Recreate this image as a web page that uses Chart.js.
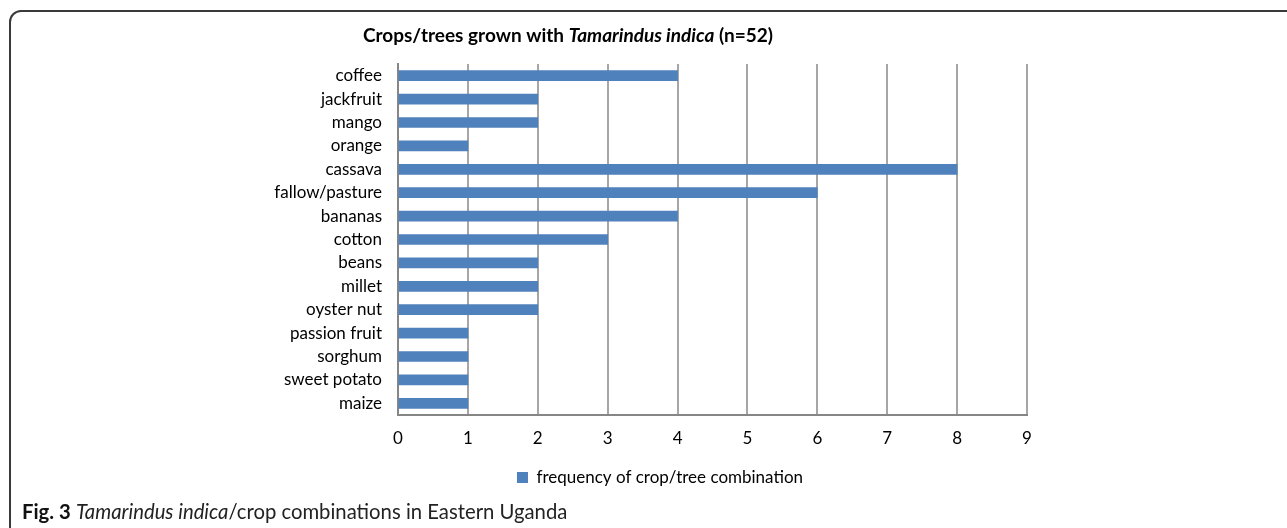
<!DOCTYPE html>
<html>
<head>
<meta charset="utf-8">
<script src="https://cdn.jsdelivr.net/npm/chart.js@4"></script>
<style>
  html, body { margin: 0; padding: 0; background: #fff; overflow: hidden; }
  #frame {
    position: absolute; left: 9px; top: 10px; width: 1320px; height: 560px;
    border: 2px solid #3a3a3a; border-radius: 12px; box-sizing: border-box;
  }
  #wrap { position: absolute; left: 0; top: 0; width: 1287px; height: 528px; }
  #caption {
    position: absolute; left: 22px; top: 499px; font-family: Lato, sans-serif;
    font-size: 20.3px; color: #222; white-space: nowrap;
  }
  #caption b { color: #111; }
</style>
</head>
<body>
<div id="frame"></div>
<div id="wrap"><canvas id="myChart"></canvas></div>
<div id="caption"><b>Fig. 3</b> <i>Tamarindus indica</i>/crop combinations in Eastern Uganda</div>
<script>
// data
const crops = ['coffee', 'jackfruit', 'mango', 'orange', 'cassava', 'fallow/pasture', 'bananas',
    'cotton', 'beans', 'millet', 'oyster nut', 'passion fruit', 'sorghum', 'sweet potato', 'maize'];
const frequency = [4, 2, 2, 1, 8, 6, 4, 3, 2, 2, 2, 1, 1, 1, 1];
const xTicks = [0, 1, 2, 3, 4, 5, 6, 7, 8, 9];
const seriesName = 'frequency of crop/tree combination';

const font = 'Lato, sans-serif';

// title with mixed bold / italic runs, legend moved to sit under the plot like the original
const extrasPlugin = {
    id: 'extras',
    afterLayout: (chart) => {
        const lg = chart.legend;
        const shift = 660 - (lg.left + lg.right) / 2;
        lg.left += shift;
        lg.right += shift;
    },
    afterDraw: (chart) => {
        const ctx = chart.ctx;
        const parts = [
            { t: 'Crops/trees grown with ', f: 'bold 19px ' + font },
            { t: 'Tamarindus indica', f: 'italic bold 19px ' + font },
            { t: ' (n=52)', f: 'bold 19px ' + font }
        ];
        ctx.save();
        let total = 0;
        parts.forEach((p) => { ctx.font = p.f; p.w = ctx.measureText(p.t).width; total += p.w; });
        let x = 568 - total / 2;
        ctx.fillStyle = '#000';
        ctx.textBaseline = 'middle';
        parts.forEach((p) => { ctx.font = p.f; ctx.fillText(p.t, x, 36); x += p.w; });
        ctx.restore();
    }
};

const data = {
    labels: crops,
    datasets: [{
        label: seriesName,
        backgroundColor: '#4f81bd',
        borderWidth: 0,
        data: frequency,
        barThickness: 10
    }]
};

const config = {
    type: 'bar',
    data: data,
    plugins: [extrasPlugin],
    options: {
        indexAxis: 'y',
        responsive: false,
        animation: false,
        layout: { padding: { top: 64, left: 150, right: 260, bottom: 32 } },
        scales: {
            x: {
                min: 0,
                max: 9,
                afterBuildTicks: (scale) => { scale.ticks = xTicks.map((v) => ({ value: v })); },
                afterFit: (scale) => { scale.height = 44; },
                grid: { color: '#a6a6a6', lineWidth: 2, drawTicks: false },
                border: { color: '#868686', width: 2 },
                ticks: { color: '#000', font: { family: font, size: 17 }, padding: 13 }
            },
            y: {
                afterFit: (scale) => { scale.width = 248; },
                grid: { display: false, drawTicks: false },
                border: { color: '#868686', width: 2 },
                ticks: { color: '#000', font: { family: font, size: 17 }, padding: 16, autoSkip: false }
            }
        },
        plugins: {
            title: { display: false },
            tooltip: { enabled: false },
            legend: {
                position: 'bottom',
                labels: {
                    color: '#000',
                    font: { family: font, size: 17 },
                    boxWidth: 11,
                    boxHeight: 11,
                    padding: 10
                }
            }
        }
    }
};

const canvas = document.getElementById('myChart');
canvas.width = 1287;
canvas.height = 528;
const graph = new Chart(canvas, config);
</script>
</body>
</html>
